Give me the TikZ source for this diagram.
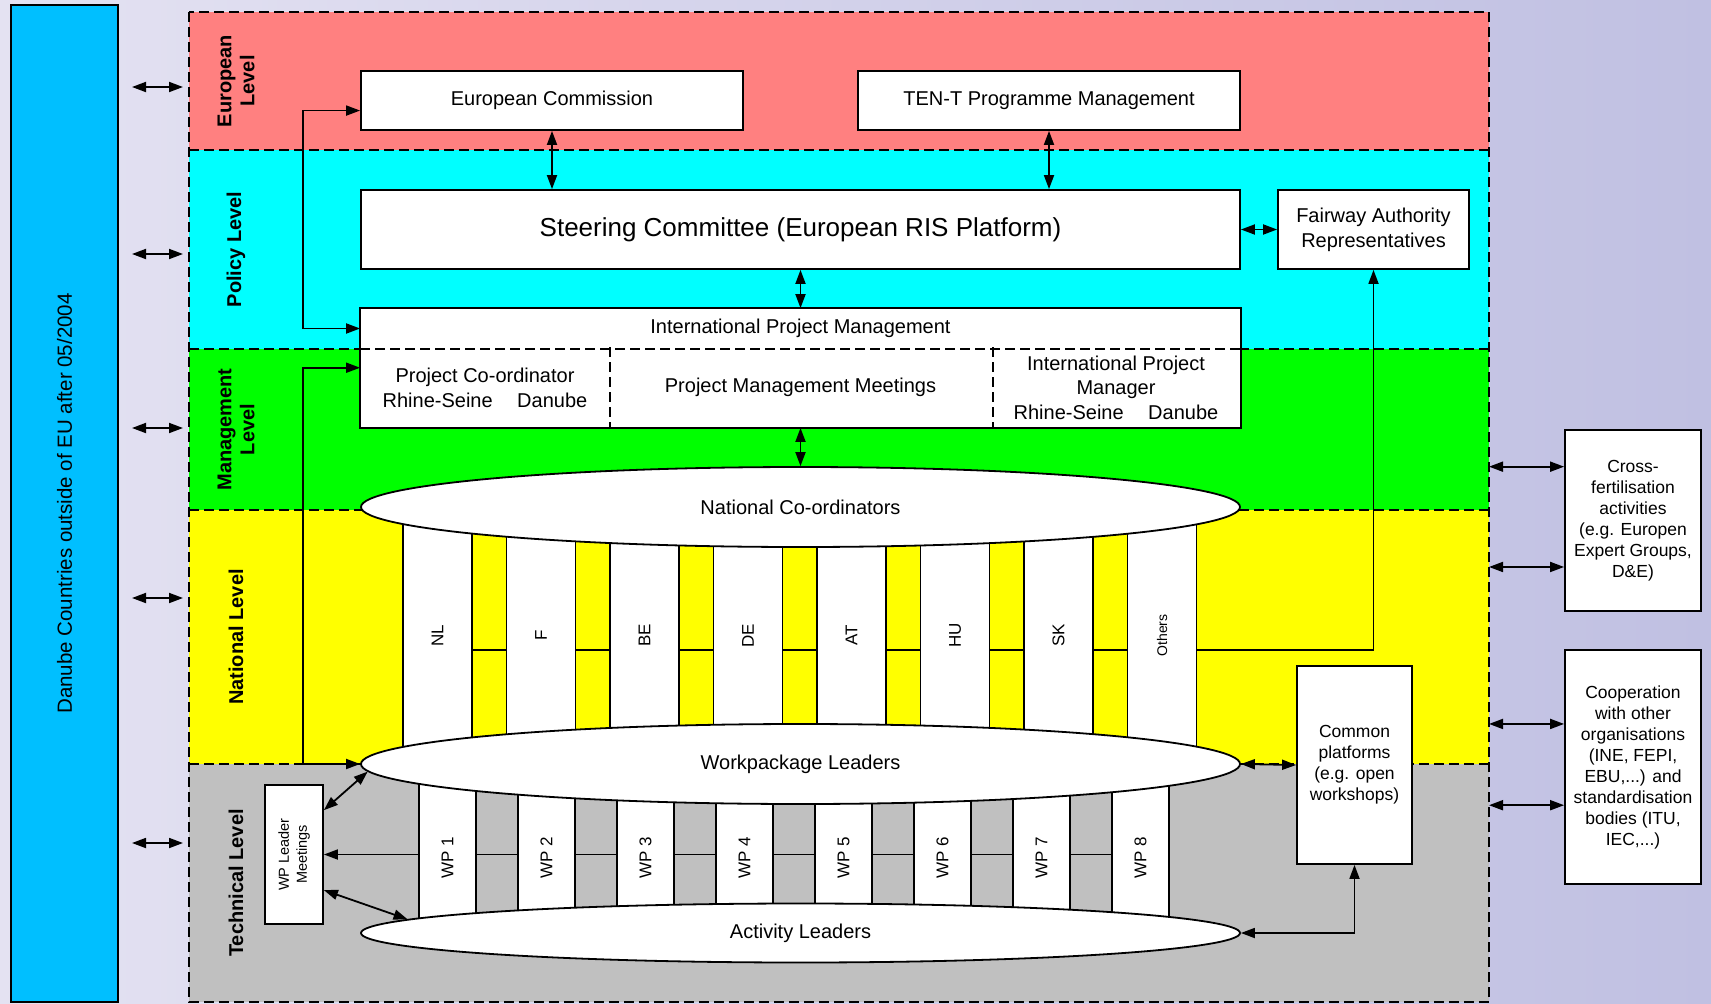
\documentclass[tikz,border=0pt]{standalone}
\usepackage{fontspec}
\setmainfont{Liberation Sans}
\usetikzlibrary{arrows.meta,shapes.geometric}
\definecolor{danubeblue}{RGB}{0,191,255}
\definecolor{eurored}{RGB}{255,128,128}
\definecolor{policycyan}{RGB}{0,255,255}
\definecolor{mangreen}{RGB}{0,255,0}
\definecolor{natyellow}{RGB}{255,255,0}
\definecolor{techgrey}{RGB}{192,192,192}
\definecolor{bgleft}{RGB}{228,226,242}
\definecolor{bgright}{RGB}{192,192,226}

\begin{document}
\begin{tikzpicture}[x=1pt,y=-1pt,
whitebox/.style={draw, line width=1.8pt, fill=white, inner sep=2pt, align=center, font=\fontsize{20}{25}\selectfont},
sidebox/.style={whitebox, font=\fontsize{17.5}{21}\selectfont},
bandrect/.style={draw, line width=1.6pt, dash pattern=on 10pt off 5pt},
levellabel/.style={rotate=90, align=center, font=\bfseries\fontsize{20}{23}\selectfont},
ovalnode/.style={ellipse, draw, line width=1.8pt, fill=white, inner sep=0pt, minimum width=879pt, font=\fontsize{20}{25}\selectfont},
countrycol/.style={draw, line width=1.8pt, fill=white, rotate=90, minimum width=257pt, minimum height=69pt, inner sep=0pt, font=\fontsize{17}{17}\selectfont},
wpcol/.style={draw, line width=1.8pt, fill=white, rotate=90, minimum width=176pt, minimum height=57pt, inner sep=0pt, font=\fontsize{17}{17}\selectfont},
biarrow/.style={line width=1.8pt, >={Triangle[length=14pt,width=10pt]}, <->},
onearrow/.style={line width=1.8pt, >={Triangle[length=14pt,width=10pt]}, ->}
]
    \fill[left color=bgleft, right color=bgright] (0,0) rectangle (1711,1004);
    \useasboundingbox (0,0) rectangle (1711,1004);

    \node[draw, line width=1.8pt, fill=danubeblue, rotate=90, minimum width=997pt, minimum height=107pt, inner sep=0pt, font=\fontsize{20.5}{24}\selectfont] (danube) at (64.5,503.5) {Danube Countries outside of EU after 05/2004};

    % level bands
    \fill[eurored] (189,12) rectangle (1489,150);
    \fill[policycyan] (189,150) rectangle (1489,349);
    \fill[mangreen] (189,349) rectangle (1489,510);
    \fill[natyellow] (189,510) rectangle (1489,764);
    \fill[techgrey] (189,764) rectangle (1489,1002);
    \draw[bandrect] (189,12) rectangle (1489,1002);
    \foreach \y in {150,349,510,764}
        \draw[bandrect] (189,\y) -- (1489,\y);

    \node[levellabel] (eurlab) at (236,81) {European\\Level};
    \node[levellabel] (pollab) at (236,249.5) {Policy Level};
    \node[levellabel] (manlab) at (236,429.5) {Management\\Level};
    \node[levellabel] (natlab) at (236,637) {National Level};
    \node[levellabel] (teclab) at (236,883) {Technical Level};

    \foreach \y [count=\k] in {87,254,428,598,843}{
        \coordinate (lft\k) at (132,\y);
        \coordinate (rgt\k) at (183,\y);
        \draw[biarrow] (lft\k) -- (rgt\k);
    }

    \coordinate (bandright) at (1489,0);
    \coordinate (loopx) at (303,0);
    \coordinate (natlink) at (437.5,650);
    \coordinate (wplink) at (1140.5,854.5);

    \node[whitebox, minimum width=382pt, minimum height=59pt] (EC) at (552,100.5) {European Commission};
    \node[whitebox, minimum width=382pt, minimum height=59pt] (TEN) at (1049,100.5) {TEN-T Programme Management};
    \node[whitebox, minimum width=879pt, minimum height=79pt, font=\fontsize{26}{30}\selectfont] (SC) at (800.5,229.5) {Steering Committee (European RIS Platform)};
    \node[whitebox, minimum width=191pt, minimum height=79pt] (FA) at (1373.5,229.5) {Fairway Authority\\Representatives};

    \node[whitebox, draw=none, minimum width=879pt, minimum height=39pt] (IPM) at (800.5,328.5) {International Project Management};
    \node[whitebox, draw=none, minimum width=248pt, minimum height=79pt] (PC) at (485,387.5) {Project Co-ordinator\\Rhine-Seine\hspace{19pt} Danube};
    \node[whitebox, draw=none, minimum width=383pt, minimum height=79pt] (PMM) at (800.5,387.5) {Project Management Meetings};
    \node[whitebox, draw=none, minimum width=248pt, minimum height=79pt, font=\fontsize{20}{24.5}\selectfont] (IPMgr) at (1116,387.5) {International Project\\Manager\\Rhine-Seine\hspace{19pt} Danube};
    \draw[line width=1.8pt] (IPM.north west) rectangle (IPMgr.south east);
    \draw[bandrect] (IPM.south west) -- (IPM.south east);
    \draw[bandrect, line width=1.2pt] (PC.north east) -- (PC.south east);
    \draw[bandrect, line width=1.2pt] (PMM.north east) -- (PMM.south east);

    \node[whitebox, rotate=90, minimum width=139pt, minimum height=58pt, font=\fontsize{14.5}{18}\selectfont] (WPLM) at (294,854.5) {WP Leader\\Meetings};
    \node[sidebox, minimum width=115pt, minimum height=198pt] (CP) at (1354.5,765) {Common\\platforms\\(e.g. open\\workshops)};
    \node[sidebox, minimum width=136pt, minimum height=181pt] (CF) at (1633,520.5) {Cross-\\fertilisation\\activities\\(e.g. Europen\\Expert Groups,\\D\&E)};
    \node[sidebox, minimum width=136pt, minimum height=234pt] (CO) at (1633,767) {Cooperation\\with other\\organisations\\(INE, FEPI,\\EBU,...) and\\standardisation\\bodies (ITU,\\IEC,...)};

    % national columns
    \draw[onearrow] (natlink) -| (FA.south);
    \foreach \cname/\ctext [count=\i from 0] in {NL/NL, F/F, BE/BE, DE/DE, AT/AT, HU/HU, SK/SK}
        \node[countrycol] (\cname) at (437.5+103.5*\i,635.5) {\ctext};
    \node[countrycol, font=\fontsize{14}{14}\selectfont] (Oth) at (1162,635.5) {Others};

    % workpackages
    \draw[onearrow] (wplink) -- (WPLM.south);
    \foreach \k in {1,...,8}
        \node[wpcol] (WP\k) at (348.5+99*\k,858) {WP \k};

    \node[ovalnode, minimum height=80pt] (NC) at (800.5,507) {National Co-ordinators};
    \node[ovalnode, minimum height=80pt] (WPL) at (800.5,764) {Workpackage Leaders};
    \node[ovalnode, minimum height=59pt] (AL) at (800.5,933) {Activity Leaders};

    \draw[biarrow] (EC.183) -- (EC.183 -| loopx) -- (IPM.west -| loopx) -- (IPM.west);
    \draw[biarrow] (PC.171) -- (PC.171 -| loopx) -- (WPL.west -| loopx) -- (WPL.west);
    \draw[biarrow] (EC.south) -- (EC.south |- SC.north);
    \draw[biarrow] (TEN.south) -- (TEN.south |- SC.north);
    \draw[biarrow] (SC.east) -- (FA.west);
    \draw[biarrow] (SC.south) -- (IPM.north);
    \draw[biarrow] (PMM.south) -- (NC.north);
    \draw[biarrow] (WPLM.-34) -- (WPL.181.5);
    \draw[biarrow] (WPLM.-140) -- (AL.178.8);
    \draw[biarrow] (WPL.east) -- (CP.west);
    \draw[biarrow] (AL.east) -| (CP.south);
    \draw[biarrow] (CF.142 -| bandright) -- (CF.142);
    \draw[biarrow] (CF.214 -| bandright) -- (CF.214);
    \draw[biarrow] (CO.148 -| bandright) -- (CO.148);
    \draw[biarrow] (CO.209 -| bandright) -- (CO.209);
\end{tikzpicture}
\end{document}
